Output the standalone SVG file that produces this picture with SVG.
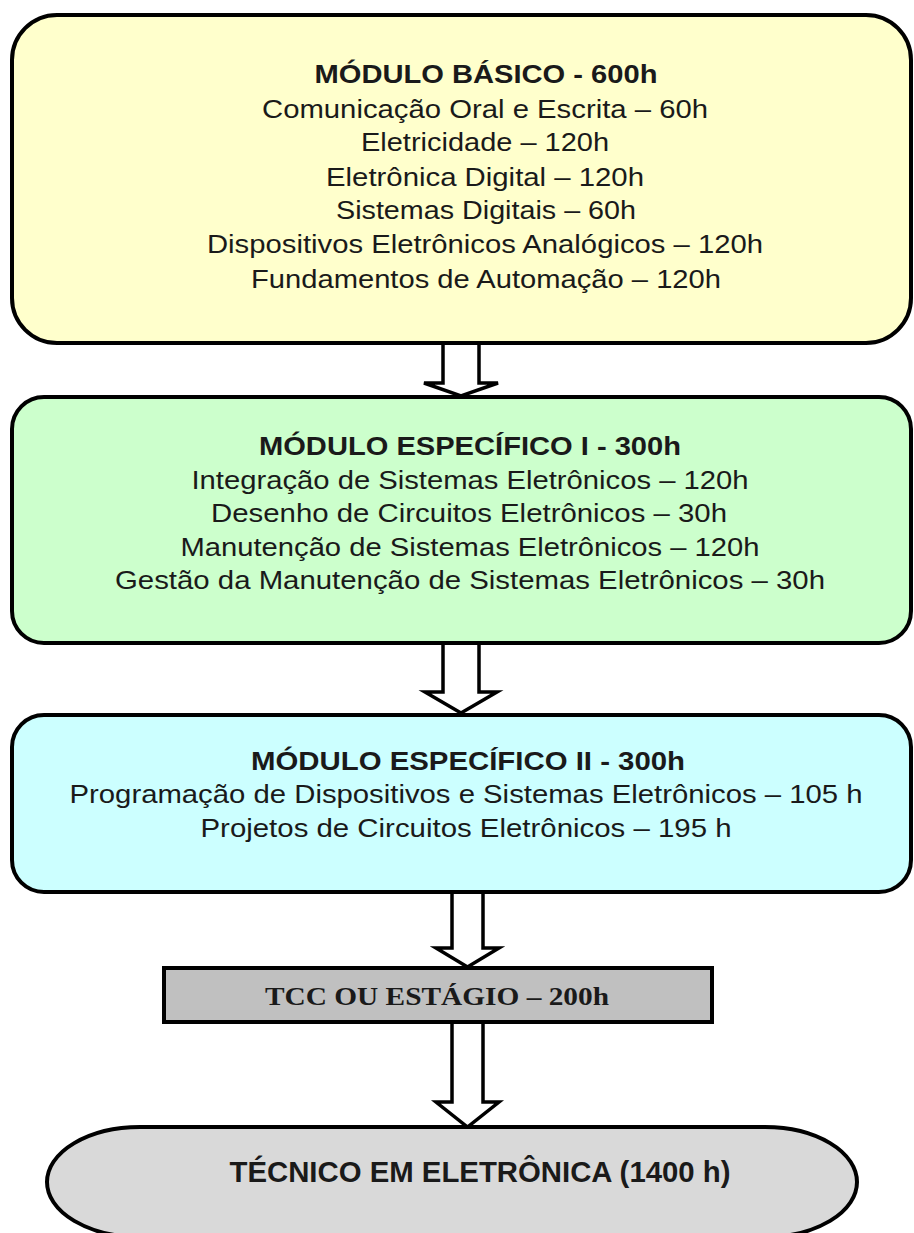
<svg xmlns="http://www.w3.org/2000/svg" width="914" height="1233" viewBox="0 0 914 1233">
<style>
.box{stroke:#000;stroke-width:4}
.arr{fill:#fff;stroke:#000;stroke-width:3.5;stroke-linejoin:miter}
.t{font-family:"Liberation Sans",Arial,sans-serif;font-size:25px;fill:#1a1a1a;text-anchor:middle}
.b{font-weight:bold}
.s{font-family:"Liberation Serif","Times New Roman",serif;font-size:26px;font-weight:bold;fill:#1a1a1a;text-anchor:middle}
</style>
<rect width="914" height="1233" fill="#fff"/>
<g id="connectors">
<path class="arr" d="M443,341 V383 H424 L461,396 L498,383 H479 V341"/>
<path class="arr" d="M443,641 V692 H425 L461,713 L497,692 H479 V641"/>
<path class="arr" d="M452,890 V948 H436 L467.5,967 L499,948 H483 V890"/>
<path class="arr" d="M452,1020 V1102 H436 L467.5,1127 L499,1102 H483 V1020"/>
</g>
<g id="modulo-basico">
<rect class="box" x="12" y="15" width="899" height="328" rx="45" fill="#FFFFCC"/>
<text class="t b" x="486" y="83" textLength="343" lengthAdjust="spacingAndGlyphs">MÓDULO BÁSICO - 600h</text>
<text class="t" x="485" y="118" textLength="446" lengthAdjust="spacingAndGlyphs">Comunicação Oral e Escrita – 60h</text>
<text class="t" x="485" y="151" textLength="248" lengthAdjust="spacingAndGlyphs">Eletricidade – 120h</text>
<text class="t" x="485" y="186" textLength="318" lengthAdjust="spacingAndGlyphs">Eletrônica Digital – 120h</text>
<text class="t" x="486" y="219" textLength="300" lengthAdjust="spacingAndGlyphs">Sistemas Digitais – 60h</text>
<text class="t" x="485" y="253" textLength="556" lengthAdjust="spacingAndGlyphs">Dispositivos Eletrônicos Analógicos – 120h</text>
<text class="t" x="486" y="288" textLength="470" lengthAdjust="spacingAndGlyphs">Fundamentos de Automação – 120h</text>
</g>
<g id="modulo-especifico-1">
<rect class="box" x="12" y="397" width="899" height="246" rx="32" fill="#CCFFCC"/>
<text class="t b" x="470" y="455" textLength="422" lengthAdjust="spacingAndGlyphs">MÓDULO ESPECÍFICO I - 300h</text>
<text class="t" x="470" y="489" textLength="557" lengthAdjust="spacingAndGlyphs">Integração de Sistemas Eletrônicos – 120h</text>
<text class="t" x="469" y="522" textLength="516" lengthAdjust="spacingAndGlyphs">Desenho de Circuitos Eletrônicos – 30h</text>
<text class="t" x="470" y="556" textLength="579" lengthAdjust="spacingAndGlyphs">Manutenção de Sistemas Eletrônicos – 120h</text>
<text class="t" x="470" y="589" textLength="710" lengthAdjust="spacingAndGlyphs">Gestão da Manutenção de Sistemas Eletrônicos – 30h</text>
</g>
<g id="modulo-especifico-2">
<rect class="box" x="12" y="715" width="899" height="177" rx="32" fill="#CCFFFF"/>
<text class="t b" x="468" y="770" textLength="434" lengthAdjust="spacingAndGlyphs">MÓDULO ESPECÍFICO II - 300h</text>
<text class="t" x="466" y="803" textLength="793" lengthAdjust="spacingAndGlyphs">Programação de Dispositivos e Sistemas Eletrônicos – 105 h</text>
<text class="t" x="466" y="837" textLength="531" lengthAdjust="spacingAndGlyphs">Projetos de Circuitos Eletrônicos – 195 h</text>
</g>
<g id="tcc">
<rect class="box" x="164" y="968" width="548" height="54" fill="#C0C0C0"/>
<text class="s" x="437" y="1005" textLength="344" lengthAdjust="spacingAndGlyphs">TCC OU ESTÁGIO – 200h</text>
</g>
<g id="tecnico">
<path class="box" d="M140,1127 H765 A92,55 0 0 1 765,1237 H140 A93,55 0 0 1 140,1127 Z" fill="#D9D9D9"/>
<text class="t b" x="480" y="1182" style="font-size:29px" textLength="501" lengthAdjust="spacingAndGlyphs">TÉCNICO EM ELETRÔNICA (1400 h)</text>
</g>
</svg>
